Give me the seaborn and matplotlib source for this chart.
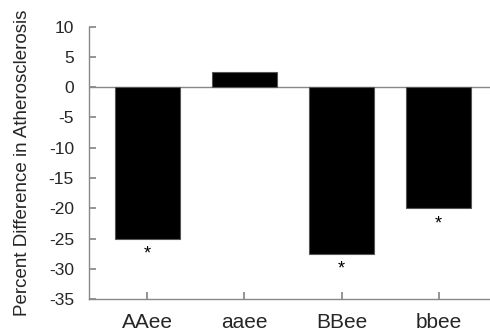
import matplotlib
matplotlib.use("Agg")
import matplotlib.pyplot as plt
import pandas as pd
import seaborn as sns

genotypes = ["AAee", "aaee", "BBee", "bbee"]
pct_diff = [-25.0, 2.5, -27.5, -20.0]
significant = [True, False, True, True]

df = pd.DataFrame({"genotype": genotypes, "pct": pct_diff})

sns.set_theme(style="white")
plt.rcParams["font.family"] = ["Liberation Sans", "DejaVu Sans"]
plt.rcParams["axes.unicode_minus"] = False

fig = plt.figure(figsize=(4.9, 3.33), dpi=100)
ax = fig.add_axes([0.182, 0.102, 0.818, 0.818])

sns.barplot(data=df, x="genotype", y="pct", color="black", width=0.67,
            edgecolor="#555555", linewidth=0.8, saturation=1, ax=ax)

ax.axhline(0, color="#888888", linewidth=1.0, zorder=0)
for i, (v, s) in enumerate(zip(pct_diff, significant)):
    if s:
        ax.text(i, v - 1.2, "*", ha="center", va="top", fontsize=13, color="black")

ax.set_ylim(-35, 10)
ax.set_xlim(-0.6, 3.53)
ax.set_yticks(range(-35, 11, 5))
ax.set_xlabel("")
ax.set_ylabel("Percent Difference in Atherosclerosis", fontsize=13.5, labelpad=13)
ax.tick_params(axis="y", labelsize=12.5, direction="in", length=5, color="#888888",
               left=True, pad=11)
ax.tick_params(axis="x", labelsize=15, direction="in", length=5, color="#888888",
               bottom=True, pad=10)
for side in ["top", "right"]:
    ax.spines[side].set_visible(False)
for side in ["left", "bottom"]:
    ax.spines[side].set_color("#888888")
    ax.spines[side].set_linewidth(1.0)

fig.savefig("out.png", dpi=100)
